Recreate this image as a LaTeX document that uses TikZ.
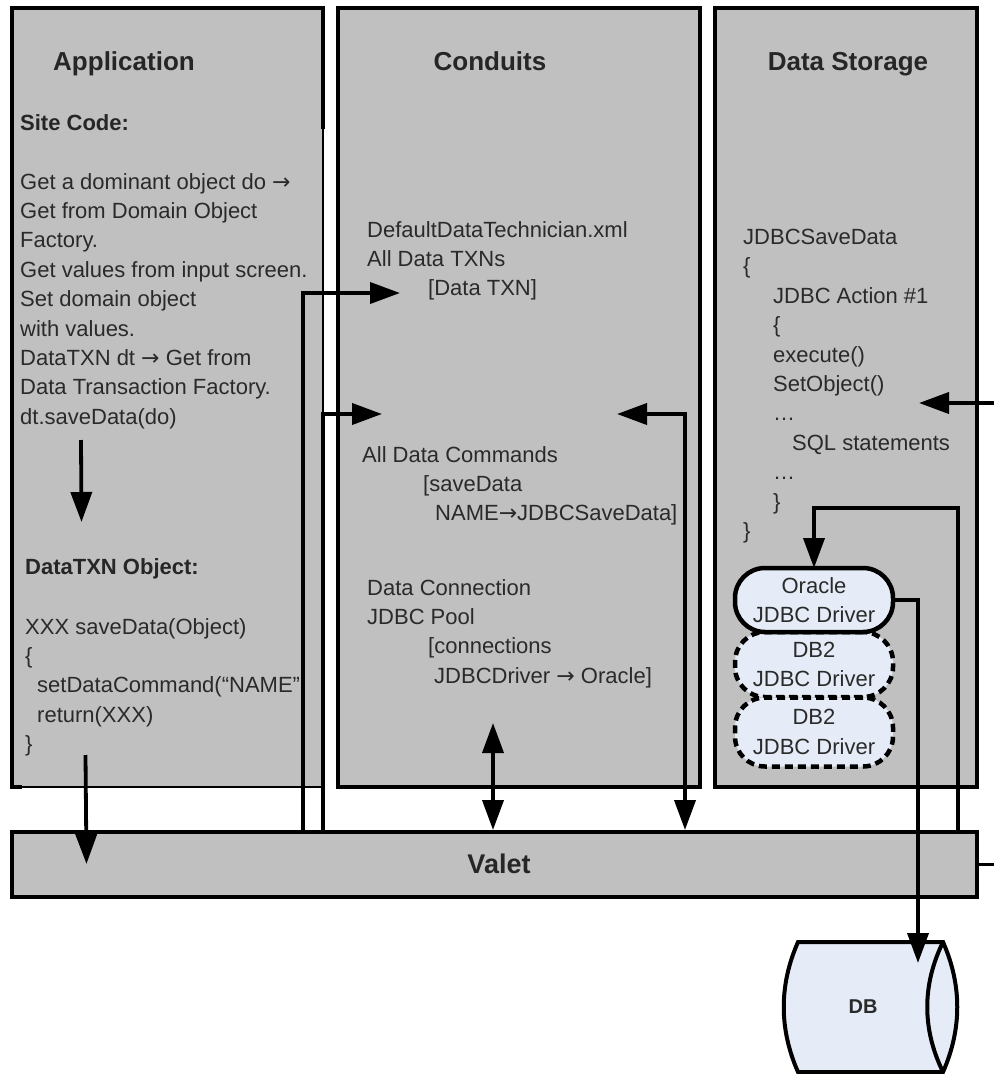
\documentclass[tikz,border=0pt]{standalone}
\usepackage{fontspec}
\setmainfont{Liberation Sans}
\newfontfamily\arrowfont{DejaVu Sans}
\usetikzlibrary{arrows.meta,positioning}
\definecolor{panelgray}{HTML}{C0C0C0}
\definecolor{driverblue}{HTML}{E6ECF7}
\definecolor{inkgray}{HTML}{2A2A2A}
\newcommand{\txtarrow}{{\arrowfont\fontsize{22}{29.4}\selectfont →}}
\tikzset{
  panel/.style={draw=black,fill=panelgray,line width=#1,inner sep=0pt,outer sep=0pt,anchor=north west},
  panel/.default=4.5pt,
  paneltitle/.style={font={\fontsize{26}{30}\selectfont\bfseries},text=black!85,inner sep=0pt,anchor=base},
  bodytext/.style={font={\fontsize{22}{29.4}\selectfont},text=inkgray,align=left,inner sep=0pt,anchor=north west},
  boldtext/.style={font={\fontsize{22}{29.4}\selectfont\bfseries},text=black!85,inner sep=0pt,anchor=base west},
  driver/.style={draw=black,fill=driverblue,line width=4.5pt,rounded corners=30pt,minimum width=158pt,minimum height=#1,
    inner sep=0pt,outer sep=0pt,align=center,text=inkgray,font={\fontsize{22}{29.4}\selectfont}},
  conn/.style={line width=3.8pt,>={Triangle[length=30pt,width=21pt]}},
}
\begin{document}
\begin{tikzpicture}[x=1pt,y=-1pt]
  \useasboundingbox (0,0) rectangle (994,1074);
  \node[panel=1.5pt,minimum width=311pt,minimum height=779pt] (app) at (12,8) {};
  \node[panel,minimum width=362pt,minimum height=779pt] (conduits) at (338,8) {};
  \node[panel,minimum width=262pt,minimum height=779pt] (storage) at (715,8) {};
  \node[panel,minimum width=965pt,minimum height=65pt] (valet) at (12,832) {};
  \draw[line width=4.5pt,line cap=rect] (app.south west) -- (app.north west) -- (app.north east) -- ++(0,119);
  \draw[line width=4.5pt] (app.south west) ++(-2,0) -- ++(12,0);

  \node[paneltitle] (apptitle) at (124,70) {Application};
  \node[paneltitle] (contitle) at (490,70) {Conduits};
  \node[paneltitle] (storetitle) at (848,70) {Data Storage};
  \node[font={\fontsize{27}{30}\selectfont\bfseries},text=black!85,inner sep=0pt] (valetlabel) at (499,864) {Valet};

  \node[boldtext] (sitecode) at (20,130) {Site Code:};
  \node[bodytext] (sitetext) at (20,173) {Get a dominant object do \txtarrow\\Get from Domain Object\\Factory.\\Get values from input screen.\\Set domain object\\with values.\\DataTXN dt \txtarrow{} Get from\\Data Transaction Factory.\\dt.saveData(do)};
  \node[boldtext] (txnobject) at (25,574) {DataTXN Object:};
  \node[bodytext] (txntext) at (25,618) {XXX saveData(Object)\\\{\\\hspace*{12pt}setDataCommand(“NAME”\\\hspace*{12pt}return(XXX)\\\}};

  \node[bodytext] (technician) at (367,221) {DefaultDataTechnician.xml\\All Data TXNs\\\hspace*{61pt}[Data TXN]};
  \node[bodytext] (commands) at (362,446) {All Data Commands\\\hspace*{61pt}[saveData\\\hspace*{73pt}NAME\txtarrow JDBCSaveData]};
  \node[bodytext] (connection) at (367,579) {Data Connection\\JDBC Pool\\\hspace*{61pt}[connections\\\hspace*{67pt}JDBCDriver \txtarrow{} Oracle]};

  \node[bodytext] (savedata) at (743,229) {JDBCSaveData\\\{\\\hspace*{30pt}JDBC Action \#1\\\hspace*{30pt}\{\\\hspace*{30pt}execute()\\\hspace*{30pt}SetObject()\\\hspace*{30pt}…\\\hspace*{49pt}SQL statements\\\hspace*{30pt}…\\\hspace*{30pt}\}\\\}};

  \node[driver=65pt,dashed,dash pattern=on 8pt off 5pt] (db2a) at (814,664.5) {DB2\\JDBC Driver};
  \node[driver=69pt,dashed,dash pattern=on 8pt off 5pt] (db2b) at (814,732) {DB2\\JDBC Driver};
  \node[driver=64pt] (oracle) at (814,600) {Oracle\\JDBC Driver};

  \coordinate (dbnw) at (798,942);
  \coordinate (dbne) at (943,942);
  \coordinate (dbsw) at (798,1072);
  \coordinate (dbse) at (943,1072);
  \draw[line width=4pt,fill=driverblue] (dbnw) -- (dbne) .. controls (962,985) and (962,1029) .. (dbse) -- (dbsw) .. controls (779,1029) and (779,985) .. (dbnw) -- cycle;
  \draw[line width=4pt] (dbne) .. controls (922,985) and (922,1029) .. (dbse);
  \node[font={\fontsize{20}{24}\selectfont\bfseries},text=inkgray,inner sep=0pt] (dblabel) at (863,1007) {DB};

  \coordinate (txnstart) at (303,833);
  \coordinate (txnin) at (400,293);
  \coordinate (cmdstart) at (323,833);
  \coordinate (cmdin) at (382,414);
  \coordinate (sitestart) at (81,440);
  \coordinate (siteend) at (81.5,522);
  \coordinate (retstart) at (85.5,755);
  \coordinate (retend) at (86.5,864);
  \coordinate (pooltop) at (493,723);
  \coordinate (poolend) at (493,830);
  \coordinate (dataend) at (685,830);
  \coordinate (datain) at (617,414);
  \coordinate (sidefeed) at (994,403);
  \coordinate (sidein) at (919,403);
  \coordinate (drvstart) at (958,833);
  \coordinate (drvturn) at (958,508);
  \coordinate (dbin) at (918,963);
  \coordinate (valetout) at (994,864);

  \draw[conn,->] (txnstart) |- (txnin);
  \draw[conn,->] (cmdstart) |- (cmdin);
  \draw[conn,->] (sitestart) -- (siteend);
  \draw[conn,->] (retstart) -- (retend);
  \draw[conn,<->] (pooltop) -- (poolend);
  \draw[conn,<->] (dataend) |- (datain);
  \draw[conn,->] (sidefeed) -- (sidein);
  \draw[conn,->] (drvstart) -- (drvturn) -| (oracle.north);
  \draw[conn,->] (oracle.east) -| (dbin);
  \draw[line width=3pt] (valet.east |- valetout) -- (valetout);
\end{tikzpicture}
\end{document}
